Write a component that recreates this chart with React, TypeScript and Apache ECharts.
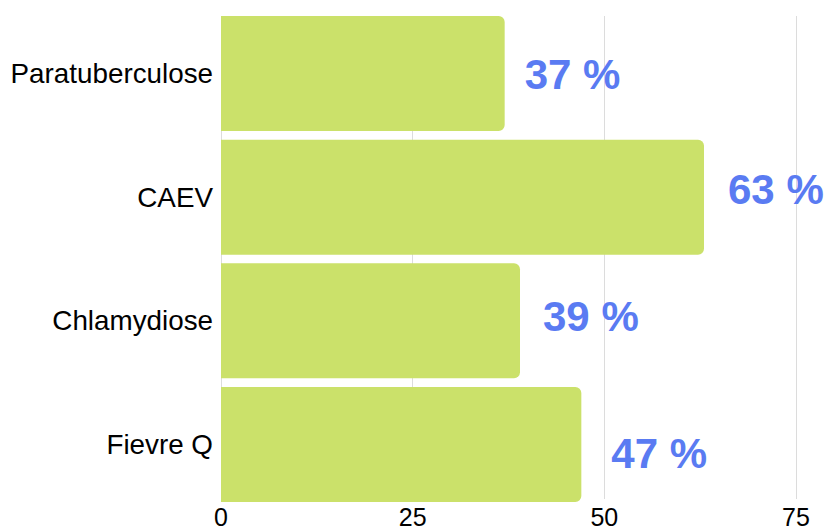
import React, { useEffect, useRef } from "react";
import * as echarts from "echarts";

const categories = ["Paratuberculose", "CAEV", "Chlamydiose", "Fievre Q"];
const values = [37, 63, 39, 47];
const labelOffsets: [number, number][] = [[0, 1], [4, -8], [3, -4], [10, 9]];
const xTicks = [0, 25, 50, 75];

const FONT = "'Liberation Sans', Arial, sans-serif";

export default function App() {
  const ref = useRef<HTMLDivElement>(null);
  useEffect(() => {
    if (!ref.current) return;
    const chart = echarts.init(ref.current, null, { renderer: "svg" });
    chart.setOption({
      animation: false,
      backgroundColor: "#ffffff",
      grid: [
        { left: 221, right: 28, top: 11.6, height: 494.8, containLabel: false },
        { left: 221, right: 28, top: 16, height: 485, containLabel: false },
      ],
      xAxis: [
        {
          gridIndex: 0,
          type: "value",
          min: xTicks[0],
          max: xTicks[xTicks.length - 1],
          interval: 25,
          show: false,
        },
        {
          gridIndex: 1,
          type: "value",
          min: xTicks[0],
          max: xTicks[xTicks.length - 1],
          interval: 25,
          axisLine: { show: false },
          axisTick: { show: false },
          splitLine: { show: true, lineStyle: { color: "#dcdcdc", width: 1 } },
          axisLabel: { color: "#000", fontSize: 25, fontFamily: FONT, margin: 5 },
          z: 0,
        },
      ],
      yAxis: [
        {
          gridIndex: 0,
          type: "category",
          data: categories,
          inverse: true,
          axisLine: { show: false },
          axisTick: { show: false },
          splitLine: { show: false },
          axisLabel: { color: "#000", fontSize: 27.8, fontFamily: FONT, margin: 8 },
        },
        { gridIndex: 1, type: "value", show: false },
      ],
      series: [
        {
          type: "bar",
          xAxisIndex: 0,
          yAxisIndex: 0,
          barWidth: 115,
          z: 5,
          data: values.map((v, i) => ({
            value: v,
            label: { offset: labelOffsets[i] },
          })),
          itemStyle: { color: "#cbe16a", borderRadius: [0, 6, 6, 0] },
          label: {
            show: true,
            position: "right",
            distance: 20,
            formatter: (p: any) => `${p.value} %`,
            color: "#5a7bf2",
            fontSize: 42,
            fontWeight: "bold",
            fontFamily: FONT,
          },
        },
      ],
    });
    return () => chart.dispose();
  }, []);
  return <div ref={ref} style={{ width: 824, height: 529, position: "absolute", left: 0, top: 0 }} />;
}
